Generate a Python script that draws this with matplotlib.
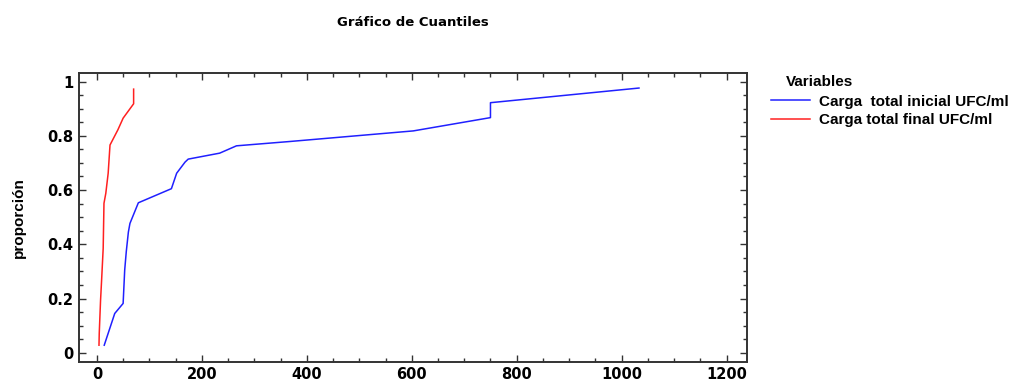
import matplotlib
matplotlib.use("Agg")
import matplotlib.pyplot as plt
from matplotlib.ticker import MultipleLocator

plt.rcParams['font.family'] = ['Liberation Sans', 'DejaVu Sans']

# valores (cuantiles: valor ordenado vs proporcion)
inicial_x = [14, 34, 50, 53, 56, 60, 63, 79, 142, 152, 168, 174, 234, 266, 368, 603, 750, 750, 1033]
inicial_y = [0.028, 0.145, 0.182, 0.305, 0.373, 0.445, 0.477, 0.553, 0.605, 0.662, 0.703, 0.714, 0.736, 0.763, 0.779, 0.818, 0.867, 0.922, 0.976]

final_x = [4, 4.5, 7, 9, 12, 13.5, 17, 21.5, 25, 40, 50, 70, 70]
final_y = [0.028, 0.072, 0.194, 0.268, 0.385, 0.551, 0.588, 0.662, 0.766, 0.822, 0.865, 0.918, 0.972]

series = ['Carga  total inicial UFC/ml', 'Carga total final UFC/ml']

fig = plt.figure(figsize=(10.16, 3.82), dpi=100)
ax = fig.add_axes([0.0778, 0.053, 0.657, 0.757])

ax.plot(inicial_x, inicial_y, color='#2020ff', lw=1.1, label=series[0])
ax.plot(final_x, final_y, color='#ff2020', lw=1.1, label=series[1])

ax.set_xlim(-34, 1238)
ax.set_ylim(-0.033, 1.033)
ax.xaxis.set_major_locator(MultipleLocator(200))
ax.xaxis.set_minor_locator(MultipleLocator(50))
ax.yaxis.set_minor_locator(MultipleLocator(0.05))
ax.set_yticks([0, 0.2, 0.4, 0.6, 0.8, 1.0])
ax.set_yticklabels(['0', '0.2', '0.4', '0.6', '0.8', '1'])

ax.tick_params(which='both', direction='in', top=True, right=True, color='#333333')
ax.tick_params(which='major', length=5, width=1, labelsize=10.5, pad=4)
ax.tick_params(which='minor', length=3, width=1)
for lab in ax.get_xticklabels() + ax.get_yticklabels():
    lab.set_fontweight('bold')
    lab.set_family('DejaVu Sans')
for s in ax.spines.values():
    s.set_linewidth(1.4)
    s.set_color('#333333')

ax.set_ylabel('proporción', fontsize=11, fontweight='bold')
ax.yaxis.set_label_coords(-0.080, 0.5)
fig.text(0.4065, 0.942, 'Gráfico de Cuantiles', ha='center', va='center',
         fontsize=9.5, fontweight='bold', family='DejaVu Sans')

leg = ax.legend(loc='upper left', bbox_to_anchor=(1.028, 1.012), frameon=False,
                title='Variables', fontsize=11, handlelength=2.55, handletextpad=0.6,
                labelspacing=0.28, borderaxespad=0)
leg.get_title().set_fontweight('bold')
leg.get_title().set_fontsize(11)
leg._legend_box.align = 'left'
leg._legend_box.sep = 4
leg.get_title().set_position((15, 0))
for t in leg.get_texts():
    t.set_fontweight('bold')

fig.savefig('out.png', dpi=100)
